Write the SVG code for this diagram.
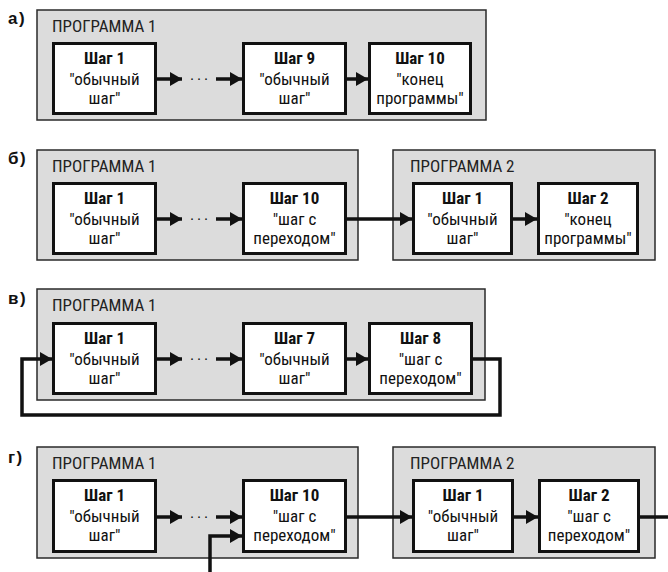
<svg xmlns="http://www.w3.org/2000/svg" width="668" height="572" viewBox="0 0 668 572">
<style>
.prog{fill:#dcdcdc;stroke:#2a2a2a;stroke-width:1.5}
.step{fill:#fff;stroke:#111;stroke-width:3}
.t{font-family:"Liberation Sans Narrow","Roboto Condensed","DejaVu Sans Condensed",sans-serif;font-size:17px;fill:#111;text-anchor:middle}
.b{font-weight:bold}
.title{font-family:"Liberation Sans Narrow","Roboto Condensed","DejaVu Sans Condensed",sans-serif;font-size:17px;fill:#222}
.lbl{font-family:"Liberation Sans",Arial,sans-serif;font-size:17px;font-weight:bold;fill:#111;letter-spacing:1.5px}
.c{fill:none;stroke:#111;stroke-width:3.5}
.a{marker-end:url(#ah)}
.dots{font-family:"Liberation Sans",Arial,sans-serif;font-size:15px;fill:#111;text-anchor:middle;letter-spacing:2px}
</style>
<defs>
<marker id="ah" markerUnits="userSpaceOnUse" markerWidth="12" markerHeight="14" refX="12" refY="7" orient="auto">
<path d="M0,0 L12,7 L0,14 z" fill="#111"/>
</marker>
</defs>
<rect width="668" height="572" fill="#fff"/>

<!-- labels -->
<text class="lbl" x="8" y="24">а)</text>
<text class="lbl" x="8" y="164">б)</text>
<text class="lbl" x="8" y="304">в)</text>
<text class="lbl" x="8" y="463">г)</text>

<!-- a -->
<g id="a-prog1"><rect class="prog" x="37" y="10" width="449" height="110"/><text class="title" x="52" y="31.5">ПРОГРАММА 1</text></g>
<g id="a-step1"><rect class="step" x="53.5" y="43.5" width="102" height="70"/><text class="t b" x="104.5" y="64">Шаг 1</text><text class="t" x="104.5" y="85">"обычный</text><text class="t" x="104.5" y="104">шаг"</text></g>
<g id="a-step9"><rect class="step" x="243.5" y="43.5" width="102" height="70"/><text class="t b" x="294.5" y="64">Шаг 9</text><text class="t" x="294.5" y="85">"обычный</text><text class="t" x="294.5" y="104">шаг"</text></g>
<g id="a-step10"><rect class="step" x="369.5" y="43.5" width="101" height="70"/><text class="t b" x="420" y="64">Шаг 10</text><text class="t" x="420" y="85">"конец</text><text class="t" x="420" y="104">программы"</text></g>

<!-- б -->
<g id="b-prog1"><rect class="prog" x="37" y="150" width="321" height="110"/><text class="title" x="52" y="171.5">ПРОГРАММА 1</text></g>
<g id="b-prog2"><rect class="prog" x="393" y="150" width="262" height="110"/><text class="title" x="410" y="171.5">ПРОГРАММА 2</text></g>
<g id="b-step1"><rect class="step" x="53.5" y="183.5" width="102" height="70"/><text class="t b" x="104.5" y="204">Шаг 1</text><text class="t" x="104.5" y="225">"обычный</text><text class="t" x="104.5" y="244">шаг"</text></g>
<g id="b-step10"><rect class="step" x="243.5" y="183.5" width="102" height="70"/><text class="t b" x="294.5" y="204">Шаг 10</text><text class="t" x="294.5" y="225">"шаг с</text><text class="t" x="294.5" y="244">переходом"</text></g>
<g id="b-p2step1"><rect class="step" x="413.5" y="183.5" width="98" height="70"/><text class="t b" x="462.5" y="204">Шаг 1</text><text class="t" x="462.5" y="225">"обычный</text><text class="t" x="462.5" y="244">шаг"</text></g>
<g id="b-p2step2"><rect class="step" x="538.5" y="183.5" width="99" height="70"/><text class="t b" x="588" y="204">Шаг 2</text><text class="t" x="588" y="225">"конец</text><text class="t" x="588" y="244">программы"</text></g>

<!-- в -->
<g id="v-prog1"><rect class="prog" x="37" y="289" width="448" height="111"/><text class="title" x="52" y="310.5">ПРОГРАММА 1</text></g>
<g id="v-step1"><rect class="step" x="53.5" y="323.5" width="102" height="70"/><text class="t b" x="104.5" y="344">Шаг 1</text><text class="t" x="104.5" y="365">"обычный</text><text class="t" x="104.5" y="384">шаг"</text></g>
<g id="v-step7"><rect class="step" x="243.5" y="323.5" width="102" height="70"/><text class="t b" x="294.5" y="344">Шаг 7</text><text class="t" x="294.5" y="365">"обычный</text><text class="t" x="294.5" y="384">шаг"</text></g>
<g id="v-step8"><rect class="step" x="369.5" y="323.5" width="102" height="70"/><text class="t b" x="420.5" y="344">Шаг 8</text><text class="t" x="420.5" y="365">"шаг с</text><text class="t" x="420.5" y="384">переходом"</text></g>

<!-- г -->
<g id="g-prog1"><rect class="prog" x="37" y="447" width="321" height="111"/><text class="title" x="52" y="468.5">ПРОГРАММА 1</text></g>
<g id="g-prog2"><rect class="prog" x="393" y="447" width="262" height="111"/><text class="title" x="410" y="468.5">ПРОГРАММА 2</text></g>
<g id="g-step1"><rect class="step" x="53.5" y="480.5" width="102" height="71"/><text class="t b" x="104.5" y="501">Шаг 1</text><text class="t" x="104.5" y="522">"обычный</text><text class="t" x="104.5" y="541">шаг"</text></g>
<g id="g-step10"><rect class="step" x="243.5" y="480.5" width="102" height="71"/><text class="t b" x="294.5" y="501">Шаг 10</text><text class="t" x="294.5" y="522">"шаг с</text><text class="t" x="294.5" y="541">переходом"</text></g>
<g id="g-p2step1"><rect class="step" x="413.5" y="480.5" width="99" height="71"/><text class="t b" x="463" y="501">Шаг 1</text><text class="t" x="463" y="522">"обычный</text><text class="t" x="463" y="541">шаг"</text></g>
<g id="g-p2step2"><rect class="step" x="539.5" y="480.5" width="99" height="71"/><text class="t b" x="589" y="501">Шаг 2</text><text class="t" x="589" y="522">"шаг с</text><text class="t" x="589" y="541">переходом"</text></g>

<g id="connectors">
<path class="c a" d="M157,79 H182"/><text class="dots" x="200" y="83">···</text><path class="c a" d="M216,79 H242"/>
<path class="c a" d="M347,79 H368"/>

<path class="c a" d="M157,219 H182"/><text class="dots" x="200" y="223">···</text><path class="c a" d="M216,219 H242"/>
<path class="c a" d="M347,219 H412"/>
<path class="c a" d="M513,219 H537"/>

<path class="c a" d="M157,359 H182"/><text class="dots" x="200" y="363">···</text><path class="c a" d="M216,359 H242"/>
<path class="c a" d="M347,359 H368"/>
<path class="c a" d="M473,359 H500 V415 H22 V359 H52"/>

<path class="c a" d="M157,517 H182"/><text class="dots" x="200" y="521">···</text><path class="c a" d="M216,517 H242"/>
<path class="c a" d="M210,572 V536 H242"/>
<path class="c a" d="M347,517 H412"/>
<path class="c a" d="M514,517 H538"/>
<path class="c" d="M640,517 H668"/>
</g>
</svg>
